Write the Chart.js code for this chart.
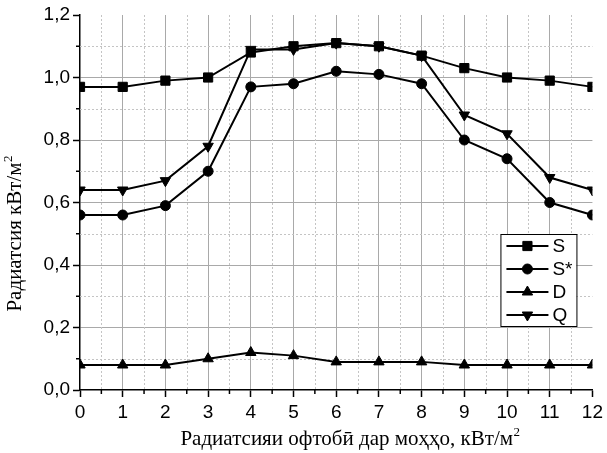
<!DOCTYPE html>
<html>
<head>
<meta charset="utf-8">
<script src="https://cdn.jsdelivr.net/npm/chart.js@4/dist/chart.umd.min.js"></script>
<style>
  html, body { margin: 0; padding: 0; background: #fff; }
</style>
</head>
<body>
<canvas id="chart" width="607" height="453"></canvas>
<script>
// months (x) and radiation values, kW/m2
const months = [0, 1, 2, 3, 4, 5, 6, 7, 8, 9, 10, 11, 12];
const sValues     = [0.97, 0.97, 0.99, 1.00, 1.08, 1.10, 1.11, 1.10, 1.07, 1.03, 1.00, 0.99, 0.97];
const sStarValues = [0.56, 0.56, 0.59, 0.70, 0.97, 0.98, 1.02, 1.01, 0.98, 0.80, 0.74, 0.60, 0.56];
const dValues     = [0.08, 0.08, 0.08, 0.10, 0.12, 0.11, 0.09, 0.09, 0.09, 0.08, 0.08, 0.08, 0.08];
const qValues     = [0.64, 0.64, 0.67, 0.78, 1.09, 1.09, 1.11, 1.10, 1.07, 0.88, 0.82, 0.68, 0.64];
const seriesLabels = ['S', 'S*', 'D', 'Q'];

// axis titles, the trailing "2" is drawn as a superscript
const xTitle = 'Радиатсияи офтобӣ дар моҳҳо, кВт/м';
const yTitle = 'Радиатсия кВт/м';
const unitSup = '2';

const SANS = "'Liberation Sans', Arial, sans-serif";
const SERIF = "'Liberation Serif', 'Times New Roman', serif";

function pts(values) {
    return months.map((m, i) => ({ x: m, y: values[i] }));
}

function series(label, values, style, radius, rotation) {
    return {
        label: label,
        data: pts(values),
        borderColor: '#000',
        backgroundColor: '#000',
        borderWidth: 2,
        pointStyle: style,
        pointRadius: radius,
        pointHoverRadius: radius,
        pointRotation: rotation,
        pointBorderWidth: 1,
        pointBorderColor: '#000',
        pointBackgroundColor: '#000',
        tension: 0
    };
}

// dotted minor grid plus short minor ticks on the axes
const minorGrid = {
    id: 'minorGrid',
    beforeDatasetsDraw(chart) {
        const ctx = chart.ctx, a = chart.chartArea;
        const xs = chart.scales.x, ys = chart.scales.y;
        ctx.save();
        ctx.lineWidth = 1;
        ctx.strokeStyle = '#c4c4c4';
        ctx.setLineDash([2, 2]);
        for (let v = 0.5; v < 12; v += 1) {
            const px = Math.round(xs.getPixelForValue(v)) + 0.5;
            ctx.beginPath(); ctx.moveTo(px, a.top); ctx.lineTo(px, a.bottom); ctx.stroke();
        }
        for (let i = 0; i < 6; i++) {
            const py = Math.round(ys.getPixelForValue(0.1 + i * 0.2)) + 0.5;
            ctx.beginPath(); ctx.moveTo(a.left, py); ctx.lineTo(a.right, py); ctx.stroke();
        }
        ctx.setLineDash([]);
        ctx.strokeStyle = '#000';
        ctx.lineWidth = 1.5;
        for (let v = 0.5; v < 12; v += 1) {
            const px = xs.getPixelForValue(v);
            ctx.beginPath(); ctx.moveTo(px, a.bottom); ctx.lineTo(px, a.bottom + 4); ctx.stroke();
        }
        for (let i = 0; i < 6; i++) {
            const py = ys.getPixelForValue(0.1 + i * 0.2);
            ctx.beginPath(); ctx.moveTo(a.left - 4, py); ctx.lineTo(a.left, py); ctx.stroke();
        }
        ctx.restore();
    }
};

function textWithSup(ctx, text, sup, x, y) {
    ctx.font = '21px ' + SERIF;
    ctx.fillText(text, x, y);
    const w = ctx.measureText(text).width;
    ctx.font = '13px ' + SERIF;
    ctx.fillText(sup, x + w + 0.5, y - 9);
}

function supWidth(ctx, text, sup) {
    ctx.font = '21px ' + SERIF;
    const w = ctx.measureText(text).width;
    ctx.font = '13px ' + SERIF;
    return w + 0.5 + ctx.measureText(sup).width;
}

// serif axis titles with a raised unit exponent
const axisTitles = {
    id: 'axisTitles',
    afterDraw(chart) {
        const ctx = chart.ctx, a = chart.chartArea;
        ctx.save();
        ctx.fillStyle = '#000';
        ctx.textAlign = 'left';
        ctx.textBaseline = 'alphabetic';

        const wx = supWidth(ctx, xTitle, unitSup);
        const cx = (a.left + a.right) / 2 + 14;
        textWithSup(ctx, xTitle, unitSup, cx - wx / 2, a.bottom + 55);

        const wy = supWidth(ctx, yTitle, unitSup);
        const cy = (a.top + a.bottom) / 2 + 31;
        ctx.translate(a.left - 59, cy);
        ctx.rotate(-Math.PI / 2);
        textWithSup(ctx, yTitle, unitSup, -wy / 2, 0);
        ctx.restore();
    }
};

// boxed legend: line segment with the marker in its middle
const boxLegend = {
    id: 'boxLegend',
    afterDraw(chart) {
        const ctx = chart.ctx, a = chart.chartArea;
        const sets = chart.data.datasets;
        const w = 76, rowH = 23, h = sets.length * rowH;
        const left = a.right - 16 - w, top = a.top + 219;
        ctx.save();
        ctx.fillStyle = '#fff';
        ctx.fillRect(left, top, w, h);
        ctx.strokeStyle = '#000';
        ctx.lineWidth = 1;
        ctx.strokeRect(left + 0.5, top + 0.5, w, h);
        sets.forEach((ds, i) => {
            const cy = top + 12 + i * rowH;
            ctx.strokeStyle = '#000';
            ctx.lineWidth = 2;
            ctx.beginPath(); ctx.moveTo(left + 6, cy); ctx.lineTo(left + 48, cy); ctx.stroke();
            ctx.fillStyle = '#000';
            ctx.lineWidth = 1;
            Chart.helpers.drawPoint(ctx, {
                pointStyle: ds.pointStyle,
                radius: ds.pointRadius,
                rotation: ds.pointRotation,
                borderWidth: 1
            }, left + 27, cy);
            ctx.fillStyle = '#000';
            ctx.font = '19px ' + SANS;
            ctx.textBaseline = 'middle';
            ctx.textAlign = 'left';
            ctx.fillText(ds.label, left + 52, cy + 1);
        });
        ctx.restore();
    }
};

new Chart(document.getElementById('chart'), {
    type: 'line',
    data: {
        datasets: [
            series(seriesLabels[0], sValues, 'rect', 6.5, 0),
            series(seriesLabels[1], sStarValues, 'circle', 5, 0),
            series(seriesLabels[2], dValues, 'triangle', 6, 0),
            series(seriesLabels[3], qValues, 'triangle', 6, 180)
        ]
    },
    options: {
        responsive: false,
        devicePixelRatio: 1,
        animation: false,
        layout: { padding: { top: 15, right: 13, left: 0, bottom: 0 } },
        plugins: {
            legend: { display: false },
            tooltip: { enabled: false }
        },
        scales: {
            x: {
                type: 'linear',
                min: 0,
                max: 12,
                ticks: {
                    stepSize: 1,
                    color: '#000',
                    padding: 4,
                    font: { family: SANS, size: 19 }
                },
                grid: {
                    color: c => (c.tick && (c.tick.value === 0 || c.tick.value === 12)) ? 'rgba(0,0,0,0)' : '#a9a9a9',
                    lineWidth: 1,
                    tickColor: '#000',
                    tickLength: 7,
                    tickWidth: 1.5
                },
                border: { color: '#000', width: 1.5 },
                afterFit: s => { s.height = 63; }
            },
            y: {
                min: 0,
                max: 1.2,
                ticks: {
                    stepSize: 0.2,
                    color: '#000',
                    padding: 3,
                    font: { family: SANS, size: 19 },
                    callback: v => v.toFixed(1).replace('.', ',')
                },
                grid: {
                    color: c => (c.tick && (Math.abs(c.tick.value) < 1e-6 || Math.abs(c.tick.value - 1.2) < 1e-6)) ? 'rgba(0,0,0,0)' : '#a9a9a9',
                    lineWidth: 1,
                    tickColor: '#000',
                    tickLength: 7,
                    tickWidth: 1.5
                },
                border: { color: '#000', width: 1.5 },
                afterFit: s => { s.width = 80; }
            }
        }
    },
    plugins: [minorGrid, axisTitles, boxLegend]
});
</script>
</body>
</html>
